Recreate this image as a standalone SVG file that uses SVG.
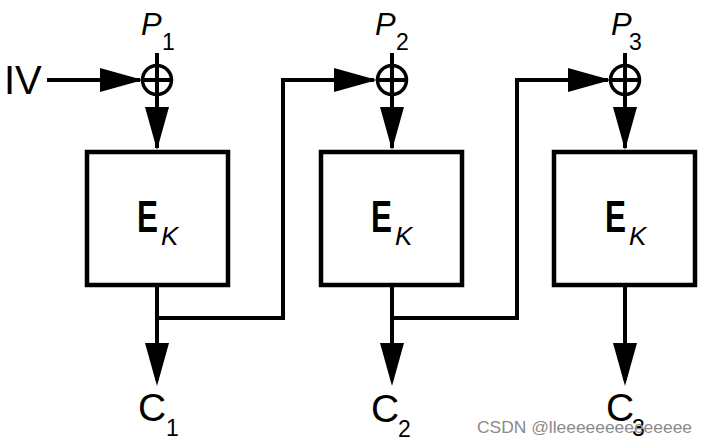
<svg xmlns="http://www.w3.org/2000/svg" width="704" height="443" viewBox="0 0 704 443">
<style>
.ln{stroke:#000;stroke-width:4;fill:none}
.bx{stroke:#000;stroke-width:4.5;fill:#fff}
.xo{stroke:#000;stroke-width:3.5;fill:#fff}
.hd{fill:#000}
.t{font-family:"Liberation Sans",Arial,sans-serif;fill:#000}
.it{font-style:italic}
.wm{font-family:"Liberation Sans",Arial,sans-serif;fill:#8a8a8a;font-size:16.5px}
</style>
<defs>
<polygon id="ahR" points="0,0 -43,-12 -43,12" class="hd"/>
<polygon id="ahD" points="0,0 -12,-43 12,-43" class="hd"/>
</defs>
<rect width="704" height="443" fill="#fff"/>
<g id="connectors">
  <line class="ln" x1="47" y1="80" x2="140" y2="80"/>
  <use href="#ahR" x="143" y="80"/>
  <line class="ln" x1="157" y1="53" x2="157" y2="66"/>
  <line class="ln" x1="392" y1="53" x2="392" y2="66"/>
  <line class="ln" x1="625" y1="53" x2="625" y2="66"/>
  <line class="ln" x1="157" y1="94" x2="157" y2="148"/>
  <use href="#ahD" x="157" y="150"/>
  <line class="ln" x1="392" y1="94" x2="392" y2="148"/>
  <use href="#ahD" x="392" y="150"/>
  <line class="ln" x1="625" y1="94" x2="625" y2="148"/>
  <use href="#ahD" x="625" y="150"/>
  <line class="ln" x1="157" y1="285" x2="157" y2="380"/>
  <use href="#ahD" x="157" y="386"/>
  <line class="ln" x1="392" y1="285" x2="392" y2="380"/>
  <use href="#ahD" x="392" y="386"/>
  <line class="ln" x1="625" y1="285" x2="625" y2="380"/>
  <use href="#ahD" x="625" y="386"/>
  <polyline class="ln" points="157,318 283,318 283,80 374,80"/>
  <use href="#ahR" x="377" y="80"/>
  <polyline class="ln" points="392,318 517,318 517,80 608,80"/>
  <use href="#ahR" x="611" y="80"/>
</g>
<g id="iv"><text class="t" x="4" y="94" font-size="40">IV</text></g>
<g id="xor1">
  <circle class="xo" cx="157" cy="80" r="14.5"/>
  <line class="ln" x1="157" y1="66" x2="157" y2="94" stroke-width="3"/>
  <line class="ln" x1="143" y1="80" x2="171" y2="80" stroke-width="3"/>
</g>
<g id="xor2">
  <circle class="xo" cx="392" cy="80" r="14.5"/>
  <line class="ln" x1="392" y1="66" x2="392" y2="94" stroke-width="3"/>
  <line class="ln" x1="378" y1="80" x2="406" y2="80" stroke-width="3"/>
</g>
<g id="xor3">
  <circle class="xo" cx="625" cy="80" r="14.5"/>
  <line class="ln" x1="625" y1="66" x2="625" y2="94" stroke-width="3"/>
  <line class="ln" x1="611" y1="80" x2="639" y2="80" stroke-width="3"/>
</g>
<g id="p1"><text class="t it" x="141" y="35" font-size="31">P</text><text class="t" x="162" y="50" font-size="23">1</text></g>
<g id="p2"><text class="t it" x="375" y="35" font-size="31">P</text><text class="t" x="396" y="50" font-size="23">2</text></g>
<g id="p3"><text class="t it" x="611" y="35" font-size="31">P</text><text class="t" x="629" y="50" font-size="23">3</text></g>
<g id="enc1">
  <rect class="bx" x="87" y="152" width="141" height="133"/>
  <text class="t" x="137" y="232" font-size="44" font-weight="bold" textLength="21" lengthAdjust="spacingAndGlyphs">E</text>
  <text class="t it" x="161" y="245" font-size="26">K</text>
</g>
<g id="enc2">
  <rect class="bx" x="321" y="152" width="141" height="133"/>
  <text class="t" x="371" y="232" font-size="44" font-weight="bold" textLength="21" lengthAdjust="spacingAndGlyphs">E</text>
  <text class="t it" x="395" y="245" font-size="26">K</text>
</g>
<g id="enc3">
  <rect class="bx" x="554" y="152" width="141" height="133"/>
  <text class="t" x="605" y="232" font-size="44" font-weight="bold" textLength="21" lengthAdjust="spacingAndGlyphs">E</text>
  <text class="t it" x="629" y="245" font-size="26">K</text>
</g>
<g id="c1"><text class="t" x="138" y="421" font-size="39">C</text><text class="t" x="166" y="436" font-size="23">1</text></g>
<g id="c2"><text class="t" x="371" y="422" font-size="39">C</text><text class="t" x="398" y="437" font-size="23">2</text></g>
<g id="c3"><text class="t" x="606" y="421" font-size="39">C</text><text class="t" x="632" y="436" font-size="23">3</text></g>
<g id="watermark"><text class="wm" x="477" y="433" textLength="215" lengthAdjust="spacingAndGlyphs">CSDN @lleeeeeeeeeeeeee</text></g>
</svg>
